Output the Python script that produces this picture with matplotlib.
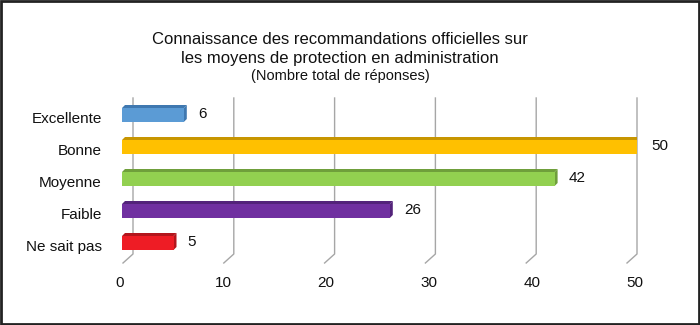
import matplotlib
matplotlib.use('Agg')
import matplotlib.pyplot as plt
from matplotlib.patches import Polygon, Rectangle

plt.rcParams['font.family'] = ['Liberation Sans', 'DejaVu Sans']

categories = ['Ne sait pas', 'Faible', 'Moyenne', 'Bonne', 'Excellente']
values = [5, 26, 42, 50, 6]
face_colors = ['#ee1c25', '#7030a0', '#92d050', '#ffc000', '#5b9bd5']
side_colors = ['#b3151c', '#53237a', '#6f9f3b', '#c79500', '#3f78b0']
ticks = [0, 10, 20, 30, 40, 50]

W, H = 700, 325
fig = plt.figure(figsize=(W / 100, H / 100), dpi=100)

# front plane: 0 at x=122px, 50 at x=637px; categories 32px apart
x0, x1 = 122, 637
y_floor, y_top = 263, 98
ax = fig.add_axes([x0 / W, (H - y_floor) / H, (x1 - x0) / W, (y_floor - y_top) / H])
ax.set_xlim(0, 50)
ppu_y = 32.0
ylo = -(y_floor - 243) / ppu_y
yhi = ylo + (y_floor - y_top) / ppu_y
ax.set_ylim(ylo, yhi)
ax.axis('off')

ppu_x = (x1 - x0) / 50.0
# grid sits on a slightly narrower floor/back wall
g_scale = 10.08 / ppu_x
g_front = 1 / ppu_x
gdx, gdy = 10 / ppu_x, 9 / ppu_y
for t in ticks:
    xf = g_front + t * g_scale
    ax.plot([xf, xf + gdx, xf + gdx], [ylo, ylo + gdy, yhi], color='#a6a6a6', lw=1,
            clip_on=False, zorder=1)
    ax.text(t - 2 / ppu_x, ylo - 20 / ppu_y, str(t), ha='center', va='center',
            fontsize=11, color='#111111')

# bars with a small depth face on top and on the right
bh = 14 / ppu_y
bdx, bdy = 3 / ppu_x, 3 / ppu_y
for i, (cat, v) in enumerate(zip(categories, values)):
    b, t = i - bh / 2, i + bh / 2
    ax.add_patch(Polygon([(0, t), (v, t), (v + bdx, t + bdy), (bdx, t + bdy)],
                         closed=True, facecolor=side_colors[i], edgecolor='none', zorder=3))
    ax.add_patch(Polygon([(v, b), (v, t), (v + bdx, t + bdy), (v + bdx, b + bdy)],
                         closed=True, facecolor=side_colors[i], edgecolor='none', zorder=3))
    ax.add_patch(Rectangle((0, b), v, bh, facecolor=face_colors[i], edgecolor='none', zorder=4))
    ax.text(v + 14 / ppu_x, i + 1 / ppu_y, str(v), ha='left', va='center', fontsize=11,
            color='#111111')
    ax.text(-20 / ppu_x, i - 4 / ppu_y, cat, ha='right', va='center', fontsize=11,
            color='#111111')

fig.text(340 / W, 1 - 39 / H, 'Connaissance des recommandations officielles sur',
         ha='center', va='center', fontsize=12, color='#111111')
fig.text(340 / W, 1 - 59 / H, 'les moyens de protection en administration',
         ha='center', va='center', fontsize=12, color='#111111')
fig.text(340 / W, 1 - 76 / H, '(Nombre total de réponses)',
         ha='center', va='center', fontsize=10.5, color='#111111')

fig.patches.append(Rectangle((0.001, 0.002), 0.997, 0.995, transform=fig.transFigure,
                             fill=False, edgecolor='#222222', lw=2))

fig.savefig('out.png', dpi=100)
